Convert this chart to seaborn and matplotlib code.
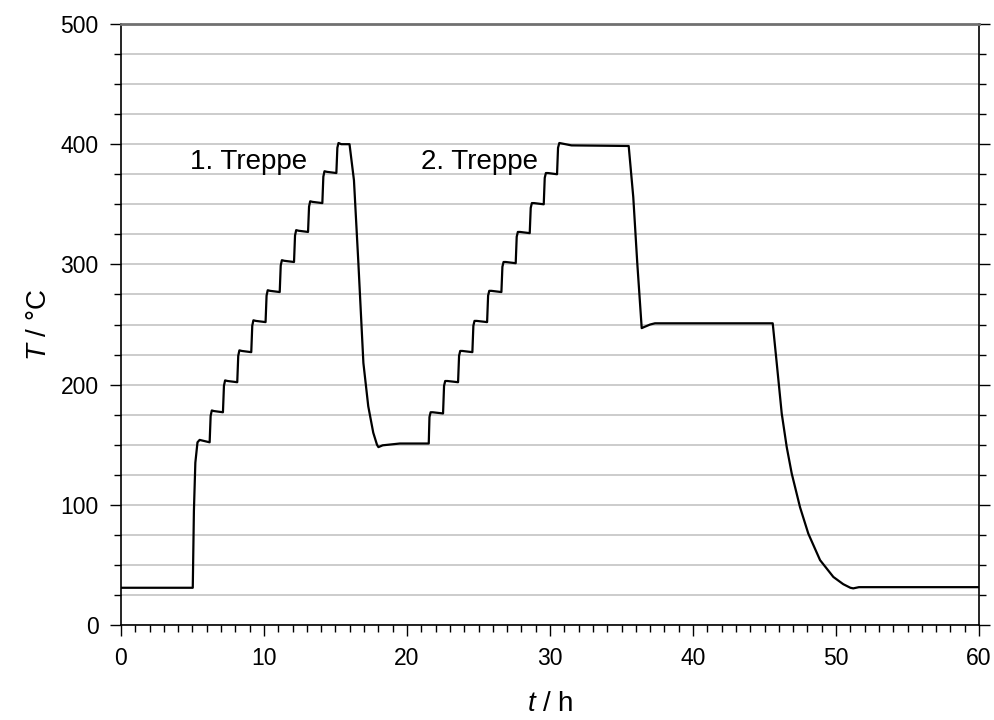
"""
Temperaturprogramm (zwei Treppen)
=================================
"""

# Libraries
import pandas as pd
import seaborn as sns
import matplotlib.pyplot as plt
from matplotlib.ticker import MultipleLocator

# ---------------------------------
# Data
# ---------------------------------
time_h = [
    0, 5.02, 5.1, 5.2, 5.35, 5.5, 6.2,
    6.27, 6.35, 6.5, 7.13,
    7.2, 7.28, 7.45, 8.13,
    8.2, 8.28, 8.45, 9.11,
    9.18, 9.26, 9.43, 10.11,
    10.18, 10.26, 10.43, 11.1,
    11.17, 11.25, 11.42, 12.1,
    12.17, 12.25, 12.42, 13.08,
    13.15, 13.23, 13.4, 14.08,
    14.15, 14.23, 14.4, 15.06,
    15.13, 15.21, 15.4, 15.98,
    16.29, 16.6, 16.95, 17.29, 17.64, 17.9, 18.0, 18.3, 19.5, 21.52,
    21.57, 21.65, 21.8, 22.52,
    22.59, 22.67, 22.82, 23.57,
    23.64, 23.72, 23.87, 24.57,
    24.64, 24.72, 24.87, 25.6,
    25.67, 25.75, 25.9, 26.6,
    26.67, 26.75, 26.9, 27.6,
    27.67, 27.75, 27.9, 28.58,
    28.65, 28.73, 28.88, 29.56,
    29.63, 29.71, 29.86, 30.49,
    30.56, 30.65, 31.5, 35.5,
    35.82, 36.1, 36.41, 36.6, 37.0, 37.34, 45.57,
    45.85, 46.2, 46.55, 46.9, 47.48, 48.06, 48.88, 49.81, 50.5, 51.0,
    51.2, 51.6, 60,
]
temp_c = [
    31, 31, 95, 135, 152, 154, 152,
    174, 178.5, 178, 177,
    199, 203.5, 203, 202,
    224, 228.5, 228, 227,
    249, 253.5, 253, 252,
    274, 278.5, 278, 277,
    299, 303.5, 303, 302,
    324, 328.5, 328, 327,
    348, 352.5, 352, 351,
    373, 377.5, 377, 376,
    397, 401, 400, 400,
    370, 301, 218, 182, 160, 150, 148, 149.5, 151, 151,
    173, 177, 177, 176,
    199, 203, 203, 202,
    224, 228, 228, 227,
    249, 253, 253, 252,
    274, 278, 278, 277,
    298, 302, 302, 301,
    323, 327, 327, 326,
    347, 351, 351, 350,
    372, 376, 376, 375,
    397, 401, 399, 398.5,
    356, 301, 247, 248, 250, 251, 251,
    218, 176, 148, 126, 98, 76, 54, 40, 34, 31,
    30.5, 31.5, 31.5,
]

labels = ["1. Treppe", "2. Treppe"]
label_t = [8.9, 25.1]
label_T = [385, 385]

# ---------------------------------
# Style
# ---------------------------------
sns.set_style("white")
plt.rcParams['font.family'] = ['Liberation Sans', 'DejaVu Sans']
plt.rcParams['mathtext.fontset'] = 'custom'
plt.rcParams['mathtext.it'] = 'Liberation Sans:italic'
plt.rcParams['mathtext.rm'] = 'Liberation Sans'
plt.rcParams['text.color'] = 'black'
plt.rcParams['axes.labelcolor'] = 'black'
plt.rcParams['xtick.color'] = 'black'
plt.rcParams['ytick.color'] = 'black'

data = pd.DataFrame({'t': time_h, 'T': temp_c})

# ---------------------------------
# Plot
# ---------------------------------
fig = plt.figure(figsize=(9.94, 7.2), dpi=100)
ax = fig.add_axes([0.1217, 0.1319, 0.8633, 0.8348])

sns.lineplot(data=data, x='t', y='T', ax=ax, color='black',
             linewidth=1.6, sort=False, estimator=None)

for txt, tx, ty in zip(labels, label_t, label_T):
    ax.text(tx, ty, txt, fontsize=20, ha='center', va='center')

# Axes limits / ticks
ax.set_xlim(0, 60)
ax.set_ylim(0, 500)
ax.xaxis.set_major_locator(MultipleLocator(10))
ax.xaxis.set_minor_locator(MultipleLocator(1))
ax.yaxis.set_major_locator(MultipleLocator(100))
ax.yaxis.set_minor_locator(MultipleLocator(25))

ax.grid(which='both', axis='y', color='#c8c8c8', linewidth=1.3)
ax.grid(which='both', axis='x', visible=False)
ax.set_axisbelow(True)

ax.tick_params(axis='both', which='major', direction='out', length=8,
               width=1, color='black', labelsize=16.5, pad=8)
ax.tick_params(axis='both', which='minor', direction='out', length=5,
               width=1, color='black')
ax.tick_params(axis='y', which='both', left=True, right=True)
ax.tick_params(axis='x', which='both', bottom=True, top=False)

# Spines
for side in ['left', 'right', 'bottom']:
    ax.spines[side].set_color('black')
    ax.spines[side].set_linewidth(1.2)
ax.spines['top'].set_color('#707070')
ax.spines['top'].set_linewidth(2)

ax.set_xlabel('$t$ / h', fontsize=20, labelpad=15)
ax.set_ylabel('$T$ / °C', fontsize=20, labelpad=6)

fig.savefig('out.png', dpi=100)
